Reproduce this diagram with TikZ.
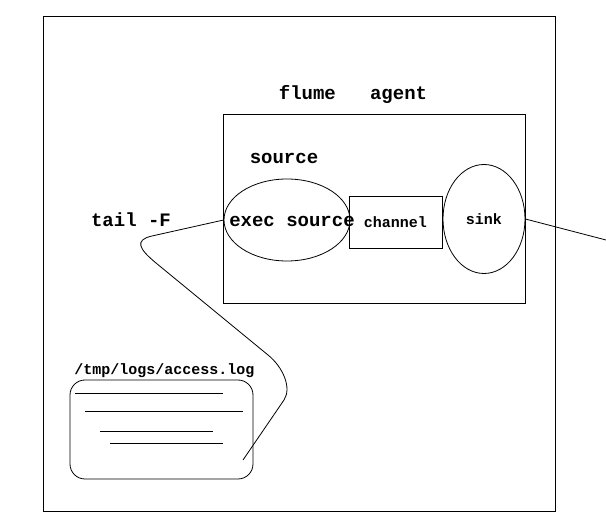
\documentclass[tikz,border=0pt]{standalone}
\usepackage{fontspec}
\setmonofont{Liberation Mono}
\usetikzlibrary{shapes.geometric}

\begin{document}
\begin{tikzpicture}[x=1pt,y=-1pt,line width=0.8pt,
    big/.style={font=\ttfamily\bfseries\fontsize{19}{21}\selectfont},
    small/.style={font=\ttfamily\bfseries\fontsize{15}{17}\selectfont}]
    \useasboundingbox (0,0) rectangle (606,526);

    % Outer frame
    \node[draw,line width=1.1pt,inner sep=0,anchor=north west,minimum width=512pt,minimum height=495pt] (frame) at (43,16) {};

    % Agent
    \node[draw,line width=1.1pt,inner sep=0,anchor=north west,minimum width=302pt,minimum height=189pt] (agent) at (223,114) {};
    \node[big] (agentlabel) at (353,94) {flume\ \ \ agent};

    % Source, channel, sink
    \node[big] (sourcelabel) at (284,158) {source};
    \node[draw,ellipse,inner sep=0,minimum width=126pt,minimum height=82pt] (exec) at (287,220) {};
    \node[big] (execlabel) at (292,221) {exec source};
    \node[draw,small,inner sep=0,minimum width=93pt,minimum height=52pt] (channel) at (395.5,222) {channel};
    \node[draw,ellipse,small,inner sep=0,minimum width=82pt,minimum height=109pt] (sink) at (484,219) {sink};

    % Log file
    \node[draw,rounded corners=15pt,inner sep=0,minimum width=183pt,minimum height=99pt] (file) at (161.5,429.5) {};
    \node[small] (filelabel) at (164.5,371) {/tmp/logs/access.log};
    \draw (75,393) -- (223,393);
    \draw (85,411.5) -- (243,411.5);
    \draw (100,431.5) -- (213,431.5);
    \draw (110,443) -- (223,443);

    % tail -F
    \node[big] (taillabel) at (131,220) {tail -F};
    \coordinate (tailend) at (243,460);
    \draw (exec.west) -- (152,236) .. controls (134,240) and (139,249) .. (156,263) -- (268,355) .. controls (283,367) and (292,388) .. (284,400) -- (tailend);

    % Output
    \coordinate (out) at (606,240);
    \draw (sink.east) -- (out);
\end{tikzpicture}
\end{document}
